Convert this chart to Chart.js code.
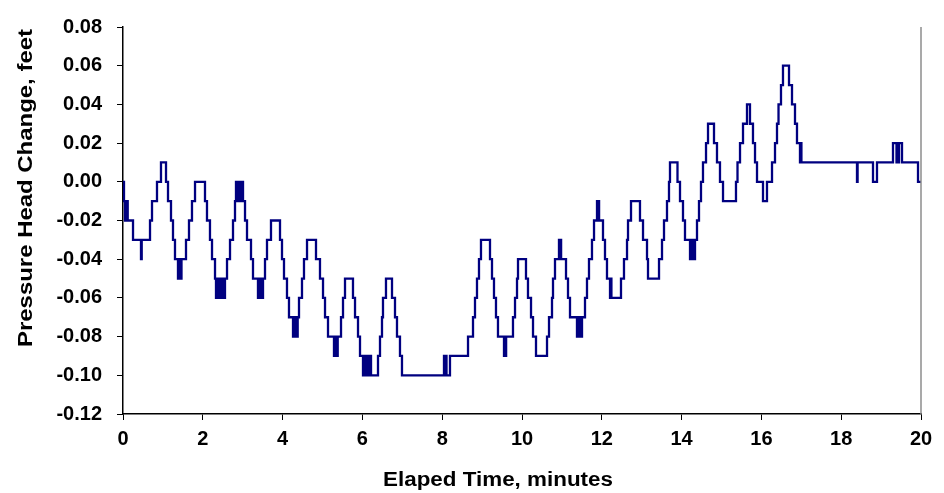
<!DOCTYPE html>
<html>
<head>
<meta charset="utf-8">
<script src="https://cdn.jsdelivr.net/npm/chart.js@4.4.1/dist/chart.umd.min.js"></script>
<style>
html,body{margin:0;padding:0;background:#ffffff;}
#wrap{width:944px;height:493px;position:relative;}
</style>
</head>
<body>
<div id="wrap"><canvas id="c" width="944" height="493"></canvas></div>
<script>
// Elapsed time (minutes) at which the recorded pressure head changes to the listed value
const elapsedMinutes = [
0,0.025,0.050,0.068,0.085,0.100,0.118,0.251,0.451,0.469,0.677,0.727,0.852,0.952,
1.078,1.128,1.203,1.253,1.303,1.378,1.396,1.414,1.431,1.449,1.466,1.579,1.654,1.729,1.805,
2.055,2.105,2.180,2.231,2.306,2.331,2.356,2.381,2.406,2.431,2.456,2.481,2.506,2.531,2.556,2.607,2.682,2.757,2.807,2.832,2.857,2.875,2.895,2.912,2.932,2.950,
3.008,3.058,3.108,3.208,3.258,3.383,3.409,3.434,3.459,3.484,3.509,3.559,3.609,3.709,3.935,3.985,
4.035,4.110,4.160,4.261,4.286,4.311,4.336,4.361,4.378,4.411,4.486,4.536,4.612,4.837,4.937,
5.013,5.063,5.138,5.288,5.306,5.326,5.346,5.363,5.381,5.464,5.514,5.564,5.764,5.815,5.890,5.940,
6.015,6.040,6.065,6.090,6.115,6.140,6.165,6.190,6.216,6.391,6.441,6.491,6.516,6.591,6.742,6.817,6.867,6.942,6.992,
8.045,8.058,8.095,8.108,8.195,8.647,8.772,8.822,8.872,8.922,8.972,
9.198,9.248,9.298,9.348,9.398,9.549,9.566,9.584,9.602,9.774,9.825,9.875,9.900,
10.100,10.150,10.226,10.276,10.351,10.627,10.677,10.752,10.777,10.827,10.927,10.945,10.962,10.980,
11.103,11.153,11.203,11.378,11.404,11.429,11.454,11.479,11.504,11.579,11.629,11.679,11.754,11.805,11.880,11.897,11.915,11.932,
12.030,12.080,12.130,12.206,12.223,12.241,12.481,12.556,12.632,12.657,12.732,12.957,
13.033,13.133,13.158,13.434,13.509,13.559,13.634,13.684,13.709,13.897,13.960,
14.035,14.085,14.211,14.236,14.261,14.286,14.311,14.336,14.386,14.436,14.486,14.536,14.612,14.662,14.812,14.887,14.962,
15.038,15.363,15.401,15.464,15.539,15.639,15.714,15.789,15.840,15.890,
16.040,16.140,16.266,16.341,16.391,16.429,16.491,16.541,16.692,16.767,16.842,16.892,16.967,16.985,
17.003,18.396,18.411,18.797,18.897,19.298,19.386,19.411,19.429,19.449,19.524,19.925,20.000
];
// Pressure head change (feet) from that time onward
const headChangeFeet = [
0.00,-0.01,-0.02,-0.01,-0.02,-0.01,-0.02,-0.03,-0.04,-0.03,-0.02,-0.01,0.00,0.01,
0.00,-0.01,-0.02,-0.03,-0.04,-0.05,-0.04,-0.05,-0.04,-0.05,-0.04,-0.03,-0.02,-0.01,0.00,
-0.01,-0.02,-0.03,-0.04,-0.05,-0.06,-0.05,-0.06,-0.05,-0.06,-0.05,-0.06,-0.05,-0.06,-0.05,-0.04,-0.03,-0.02,-0.01,0.00,-0.01,0.00,-0.01,0.00,-0.01,0.00,
-0.01,-0.02,-0.03,-0.04,-0.05,-0.06,-0.05,-0.06,-0.05,-0.06,-0.05,-0.04,-0.03,-0.02,-0.03,-0.04,
-0.05,-0.06,-0.07,-0.08,-0.07,-0.08,-0.07,-0.08,-0.07,-0.06,-0.05,-0.04,-0.03,-0.04,-0.05,
-0.06,-0.07,-0.08,-0.09,-0.08,-0.09,-0.08,-0.09,-0.08,-0.07,-0.06,-0.05,-0.06,-0.07,-0.08,-0.09,
-0.10,-0.09,-0.10,-0.09,-0.10,-0.09,-0.10,-0.09,-0.10,-0.09,-0.08,-0.07,-0.06,-0.05,-0.06,-0.07,-0.08,-0.09,-0.10,
-0.09,-0.10,-0.09,-0.10,-0.09,-0.08,-0.07,-0.06,-0.05,-0.04,-0.03,
-0.04,-0.05,-0.06,-0.07,-0.08,-0.09,-0.08,-0.09,-0.08,-0.07,-0.06,-0.05,-0.04,
-0.05,-0.06,-0.07,-0.08,-0.09,-0.08,-0.07,-0.06,-0.05,-0.04,-0.03,-0.04,-0.03,-0.04,
-0.05,-0.06,-0.07,-0.08,-0.07,-0.08,-0.07,-0.08,-0.07,-0.06,-0.05,-0.04,-0.03,-0.02,-0.01,-0.02,-0.01,-0.02,
-0.03,-0.04,-0.05,-0.06,-0.05,-0.06,-0.05,-0.04,-0.03,-0.02,-0.01,-0.02,
-0.03,-0.04,-0.05,-0.04,-0.03,-0.02,-0.01,0.00,0.01,0.00,-0.01,
-0.02,-0.03,-0.04,-0.03,-0.04,-0.03,-0.04,-0.03,-0.02,-0.01,0.00,0.01,0.02,0.03,0.02,0.01,0.00,
-0.01,0.00,0.01,0.02,0.03,0.04,0.03,0.02,0.01,0.00,
-0.01,0.00,0.01,0.02,0.03,0.04,0.05,0.06,0.05,0.04,0.03,0.02,0.01,0.02,
0.01,0.00,0.01,0.00,0.01,0.02,0.01,0.02,0.01,0.02,0.01,0.00,0.00
];
const xTickValues = [0,2,4,6,8,10,12,14,16,18,20];
const yTickValues = [-0.12,-0.10,-0.08,-0.06,-0.04,-0.02,0.00,0.02,0.04,0.06,0.08];
const xAxisTitle = 'Elaped Time, minutes';
const yAxisTitle = 'Pressure Head Change, feet';

const points = elapsedMinutes.map((t, i) => ({x: t, y: headChangeFeet[i]}));

const FONT = '"Liberation Sans", Arial, Helvetica, sans-serif';

const titlesPlugin = {
  id: 'titlesAndBorder',
  afterDraw(chart) {
    const ctx = chart.ctx;
    const a = chart.chartArea;
    ctx.save();
    // right plot-area border
    ctx.strokeStyle = '#8c8c8c';
    ctx.lineWidth = 1.5;
    ctx.beginPath();
    ctx.moveTo(a.right, a.top);
    ctx.lineTo(a.right, a.bottom);
    ctx.stroke();
    // axis titles
    ctx.fillStyle = '#000';
    ctx.textAlign = 'center';
    ctx.textBaseline = 'middle';
    ctx.font = 'bold 20px ' + FONT;
    ctx.save();
    ctx.translate(498, 480);
    ctx.scale(1.12, 1);
    ctx.fillText(xAxisTitle, 0, 0);
    ctx.restore();
    ctx.save();
    ctx.font = 'bold 21px ' + FONT;
    ctx.translate(26, 188);
    ctx.rotate(-Math.PI / 2);
    ctx.scale(1.14, 1);
    ctx.fillText(yAxisTitle, 0, 0);
    ctx.restore();
    ctx.restore();
  }
};

new Chart(document.getElementById('c'), {
  type: 'line',
  data: {
    datasets: [{
      data: points,
      borderColor: '#000080',
      borderWidth: 2.3,
      pointRadius: 0,
      fill: false,
      stepped: true,
      tension: 0
    }]
  },
  options: {
    responsive: false,
    animation: false,
    events: [],
    layout: {padding: {top: 17, right: 23, left: 0, bottom: 0}},
    plugins: {legend: {display: false}, tooltip: {enabled: false}},
    scales: {
      x: {
        type: 'linear',
        min: 0, max: 20,
        afterBuildTicks: s => { s.ticks = xTickValues.map(v => ({value: v})); },
        afterFit: s => { s.height = 79; },
        grid: {display: true, drawOnChartArea: false, drawTicks: true, tickLength: 6, color: '#000', lineWidth: 1},
        border: {display: true, color: '#000', width: 1.5},
        ticks: {color: '#000', padding: 7, maxRotation: 0, autoSkip: false,
          font: {family: FONT, size: 20, weight: 'bold'},
          callback: v => String(v)}
      },
      y: {
        type: 'linear',
        min: -0.12, max: 0.08,
        afterBuildTicks: s => { s.ticks = yTickValues.map(v => ({value: v})); },
        afterFit: s => { s.width = 123; },
        grid: {display: true, drawOnChartArea: false, drawTicks: true, tickLength: 6, color: '#000', lineWidth: 1},
        border: {display: true, color: '#000', width: 1.5},
        ticks: {color: '#000', padding: 15, autoSkip: false,
          font: {family: FONT, size: 20, weight: 'bold'},
          callback: v => (Math.abs(v) < 1e-9 ? 0 : v).toFixed(2)}
      }
    }
  },
  plugins: [titlesPlugin]
});
</script>
</body>
</html>
